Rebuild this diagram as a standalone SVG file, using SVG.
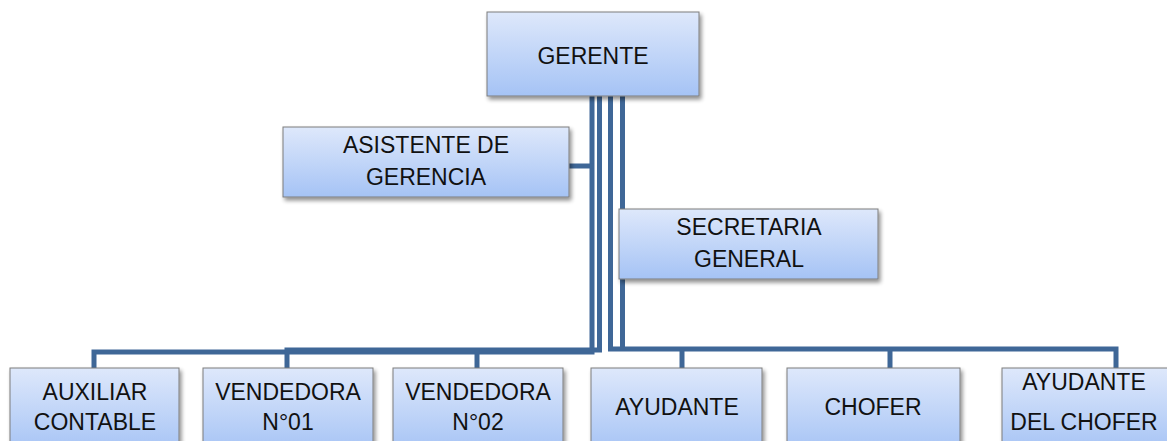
<svg xmlns="http://www.w3.org/2000/svg" width="1167" height="441" viewBox="0 0 1167 441">
<defs>
<linearGradient id="g" x1="0" y1="0" x2="0" y2="1">
<stop offset="0" stop-color="#dee8fb"/>
<stop offset="1" stop-color="#a5c3f5"/>
</linearGradient>
<filter id="sh" x="-10%" y="-10%" width="125%" height="135%">
<feGaussianBlur in="SourceAlpha" stdDeviation="2"/>
<feOffset dx="2" dy="3" result="b"/>
<feComponentTransfer><feFuncA type="linear" slope="0.45"/></feComponentTransfer>
<feMerge><feMergeNode/><feMergeNode in="SourceGraphic"/></feMerge>
</filter>
</defs>
<style>
.box{fill:url(#g);stroke:#7d7d7d;stroke-width:1;filter:url(#sh)}
.t{font-family:"Liberation Sans",Arial,sans-serif;font-size:23px;fill:#111;text-anchor:middle}
.c{fill:none;stroke:#3f6797;stroke-width:5}
</style>
<rect width="1167" height="441" fill="#fff"/>
<g id="connectors">
<polyline class="c" points="592,96 592,352 94,352 94,370"/>
<polyline class="c" points="599.5,96 599.5,350 287,350 287,370"/>
<line class="c" x1="477" y1="350" x2="477" y2="370"/>
<polyline class="c" points="610.5,96 610.5,349 1116,349 1116,370"/>
<polyline class="c" points="622.5,96 622.5,350"/>
<line class="c" x1="682" y1="349" x2="682" y2="370"/>
<line class="c" x1="890" y1="349" x2="890" y2="370"/>
<line class="c" x1="569" y1="166" x2="594" y2="166"/>
</g>
<g id="gerente">
<rect class="box" x="487" y="12" width="212" height="84"/>
<text class="t" x="593" y="64" font-size="24">GERENTE</text>
</g>
<g id="asistente">
<rect class="box" x="283" y="127" width="286" height="70"/>
<text class="t" x="426" y="153">ASISTENTE DE</text>
<text class="t" x="426" y="185">GERENCIA</text>
</g>
<g id="secretaria">
<rect class="box" x="619" y="209" width="259" height="70"/>
<text class="t" x="749" y="235">SECRETARIA</text>
<text class="t" x="749" y="267">GENERAL</text>
</g>
<g id="auxiliar">
<rect class="box" x="10" y="368" width="169" height="85"/>
<text class="t" x="95" y="400">AUXILIAR</text>
<text class="t" x="95" y="430">CONTABLE</text>
</g>
<g id="vendedora1">
<rect class="box" x="203" y="368" width="170" height="85"/>
<text class="t" x="288" y="400">VENDEDORA</text>
<text class="t" x="288" y="430">N°01</text>
</g>
<g id="vendedora2">
<rect class="box" x="393" y="368" width="170" height="85"/>
<text class="t" x="478" y="400">VENDEDORA</text>
<text class="t" x="478" y="430">N°02</text>
</g>
<g id="ayudante">
<rect class="box" x="591" y="368" width="171" height="85"/>
<text class="t" x="677" y="415" font-size="24">AYUDANTE</text>
</g>
<g id="chofer">
<rect class="box" x="787" y="368" width="173" height="85"/>
<text class="t" x="873" y="415" font-size="22">CHOFER</text>
</g>
<g id="ayudante-chofer">
<rect class="box" x="1002" y="368" width="172" height="85"/>
<text class="t" x="1084" y="390" font-size="25">AYUDANTE</text>
<text class="t" x="1084" y="430" font-size="25">DEL CHOFER</text>
</g>
</svg>
